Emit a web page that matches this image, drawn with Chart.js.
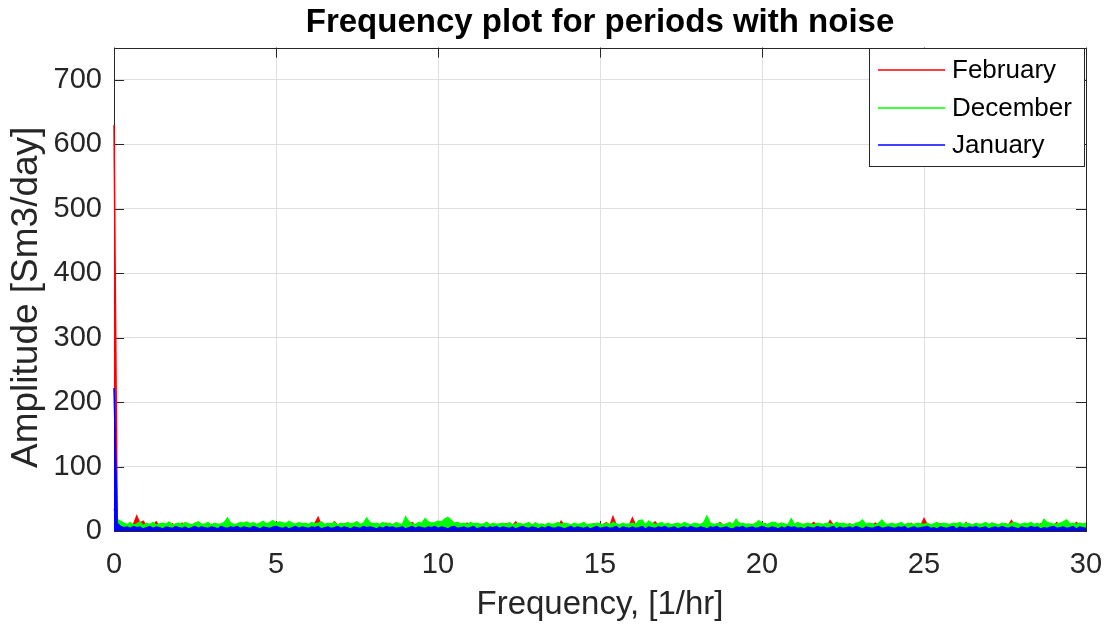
<!DOCTYPE html>
<html>
<head>
<meta charset="utf-8">
<script src="https://cdn.jsdelivr.net/npm/chart.js@4/dist/chart.umd.min.js"></script>
<style>
  html, body { margin: 0; padding: 0; background: #fff; }
  canvas { display: block; }
</style>
</head>
<body>
<canvas id="freqChart" width="1105" height="628"></canvas>
<script>
// frequency grid: 0..30 1/hr, step 0.1
const freqStep = 0.1;
const freqCount = 301;

const xTicks = [0, 5, 10, 15, 20, 25, 30];
const yTicks = [0, 100, 200, 300, 400, 500, 600, 700];

const seriesNames = ["February", "December", "January"];
const seriesColors = ["#ff0000", "#00ff00", "#0000ff"];

// amplitudes [Sm3/day]
const february = [
  630, 9, 7, 11, 6, 8, 10, 23, 12, 15, 8, 6, 9, 14, 7, 10, 5, 8, 11, 7,
  9, 12, 6, 8, 10, 7, 13, 9, 6, 11, 8, 5, 10, 7, 9, 12, 6, 8, 7, 10,
  8, 6, 11, 9, 7, 10, 5, 8, 12, 7, 9, 6, 10, 8, 11, 7, 9, 6, 8, 10,
  7, 9, 12, 21, 8, 6, 10, 7, 14, 9, 6, 11, 8, 7, 10, 13, 6, 9, 8, 7,
  10, 8, 6, 9, 12, 7, 8, 10, 6, 9, 11, 7, 13, 8, 6, 10, 9, 7, 8, 11,
  6, 9, 8, 10, 7, 11, 8, 6, 9, 12, 7, 8, 10, 6, 9, 13, 8, 7, 10, 6,
  9, 11, 7, 8, 14, 6, 9, 10, 7, 8, 12, 6, 9, 7, 11, 8, 10, 6, 15, 9,
  7, 8, 10, 6, 9, 12, 7, 8, 11, 9, 6, 10, 13, 8, 22, 9, 7, 10, 6, 8,
  20, 9, 7, 11, 8, 6, 10, 14, 8, 7, 9, 11, 6, 8, 10, 7, 12, 9, 6, 8,
  10, 7, 9, 6, 11, 8, 7, 13, 9, 6, 8, 10, 7, 12, 9, 8, 6, 10, 7, 9,
  8, 11, 6, 9, 7, 10, 12, 8, 6, 9, 7, 11, 8, 10, 6, 9, 13, 7, 8, 10,
  6, 16, 9, 7, 10, 8, 6, 11, 9, 7, 13, 8, 10, 6, 9, 12, 7, 8, 10, 6,
  9, 7, 11, 8, 6, 10, 12, 7, 9, 8, 19, 10, 7, 9, 6, 11, 8, 10, 7, 9,
  6, 10, 8, 13, 7, 9, 11, 6, 8, 10, 7, 12, 9, 8, 6, 11, 9, 16, 8, 7,
  10, 6, 9, 12, 8, 7, 11, 9, 6, 10, 8, 13, 7, 9, 11, 8, 6, 13, 9, 7,
  8
];

const december = [
  35, 18, 15, 12, 10, 13, 9, 11, 14, 8, 12, 10, 13, 9, 11, 12, 10, 14, 9, 11,
  12, 10, 13, 11, 9, 12, 14, 10, 11, 13, 9, 12, 10, 11, 13, 20, 12, 10, 11, 13,
  12, 14, 11, 13, 10, 12, 15, 11, 13, 16, 12, 14, 13, 11, 15, 12, 10, 13, 11, 12,
  10, 13, 11, 12, 14, 10, 12, 11, 13, 9, 12, 10, 13, 11, 12, 14, 10, 12, 20, 13,
  11, 12, 10, 13, 11, 12, 9, 13, 11, 10, 22, 14, 11, 10, 13, 12, 19, 14, 12, 13,
  15, 14, 18, 21, 17, 12, 13, 11, 12, 10, 13, 11, 12, 10, 11, 13, 9, 12, 10, 11,
  12, 10, 13, 9, 11, 12, 10, 11, 13, 9, 12, 10, 11, 9, 12, 10, 11, 13, 10, 12,
  11, 9, 12, 10, 11, 13, 9, 11, 10, 12, 11, 9, 12, 10, 13, 11, 9, 12, 10, 11,
  12, 10, 16, 17, 9, 15, 12, 10, 11, 13, 10, 12, 9, 11, 12, 10, 13, 11, 9, 12,
  11, 10, 13, 23, 12, 10, 11, 12, 9, 11, 13, 10, 18, 11, 12, 10, 11, 9, 12, 16,
  12, 10, 11, 13, 13, 10, 12, 11, 9, 19, 10, 13, 11, 10, 12, 11, 9, 12, 11, 10,
  12, 11, 10, 13, 11, 12, 10, 11, 9, 12, 13, 17, 10, 12, 11, 9, 12, 17, 11, 10,
  12, 10, 11, 13, 9, 12, 11, 10, 12, 11, 10, 12, 9, 11, 13, 10, 12, 11, 10, 12,
  11, 13, 10, 12, 11, 9, 12, 10, 11, 13, 10, 12, 11, 9, 12, 11, 10, 12, 13, 11,
  10, 12, 11, 13, 10, 12, 9, 18, 13, 12, 10, 11, 12, 14, 17, 11, 12, 10, 12, 11,
  12
];

const january = [
  222, 12, 7, 5, 6, 4, 7, 5, 6, 3, 5, 7, 4, 6, 5, 3, 6, 5, 4, 7,
  5, 4, 6, 3, 5, 7, 4, 6, 5, 4, 6, 5, 3, 7, 5, 4, 6, 5, 7, 4,
  6, 5, 4, 7, 5, 3, 6, 5, 4, 6, 7, 5, 4, 6, 3, 5, 7, 4, 6, 5,
  4, 6, 5, 7, 3, 5, 6, 4, 5, 7, 4, 6, 5, 3, 6, 5, 4, 7, 5, 6,
  5, 3, 6, 4, 7, 5, 6, 4, 5, 6, 3, 5, 7, 4, 6, 5, 4, 6, 5, 7,
  4, 6, 5, 3, 6, 7, 4, 5, 6, 4, 5, 7, 3, 5, 6, 4, 6, 5, 7, 4,
  6, 5, 4, 6, 3, 5, 7, 5, 4, 6, 5, 3, 6, 4, 7, 5, 4, 6, 5, 3,
  5, 7, 4, 6, 5, 4, 6, 3, 5, 7, 4, 5, 6, 4, 5, 7, 3, 6, 5, 4,
  6, 4, 5, 7, 3, 6, 5, 4, 6, 5, 7, 4, 5, 6, 3, 5, 6, 4, 7, 5,
  4, 6, 5, 3, 6, 5, 7, 4, 5, 6, 4, 3, 6, 5, 7, 4, 5, 6, 4, 5,
  7, 5, 4, 6, 5, 3, 6, 4, 7, 5, 6, 4, 5, 3, 6, 5, 4, 7, 5, 6,
  4, 5, 7, 3, 6, 4, 5, 6, 4, 7, 5, 3, 6, 5, 4, 6, 7, 4, 5, 6,
  5, 4, 6, 5, 7, 3, 5, 6, 4, 5, 6, 7, 4, 5, 3, 6, 5, 4, 6, 7,
  3, 6, 5, 4, 6, 5, 7, 4, 5, 6, 3, 5, 6, 4, 7, 5, 4, 6, 5, 3,
  6, 5, 4, 7, 5, 6, 3, 5, 4, 6, 7, 4, 5, 6, 4, 5, 7, 3, 6, 5,
  4
];

const seriesValues = [february, december, january];

const yTitle = "Amplitude [Sm3/day]";

const FONT = "'Liberation Sans', Arial, Helvetica, sans-serif";
const AXIS_COLOR = "#262626";

function toPoints(vals) {
  return vals.slice(0, freqCount).map((v, i) => ({ x: +(i * freqStep).toFixed(2), y: v }));
}

// MATLAB style box with inward tick marks, y label, then legend on top
const boxPlugin = {
  id: "matlabBox",
  afterLayout(chart) {
    // centre the title over the axes, not the whole canvas
    if (chart.titleBlock) {
      chart.titleBlock.left = chart.chartArea.left;
      chart.titleBlock.right = chart.chartArea.right;
    }
  },
  beforeDatasetsDraw(chart) {
    const { ctx, chartArea: a, scales } = chart;
    const len = 10;
    ctx.save();
    ctx.strokeStyle = AXIS_COLOR;
    ctx.lineWidth = 1;
    ctx.beginPath();
    xTicks.forEach(v => {
      const px = Math.round(scales.x.getPixelForValue(v)) + 0.5;
      ctx.moveTo(px, a.bottom); ctx.lineTo(px, a.bottom - len);
      ctx.moveTo(px, a.top); ctx.lineTo(px, a.top + len);
    });
    yTicks.forEach(v => {
      const py = Math.round(scales.y.getPixelForValue(v)) + 0.5;
      ctx.moveTo(a.left, py); ctx.lineTo(a.left + len, py);
      ctx.moveTo(a.right, py); ctx.lineTo(a.right - len, py);
    });
    ctx.stroke();
    ctx.strokeRect(Math.round(a.left) + 0.5, Math.round(a.top) + 0.5,
      Math.round(a.right - a.left), Math.round(a.bottom - a.top));
    ctx.restore();
  },
  afterDraw(chart) {
    const { ctx, chartArea: a } = chart;
    ctx.save();
    // y axis label, sits a little below the axes centre in the original
    ctx.translate(27, (a.top + a.bottom) / 2 + 8);
    ctx.rotate(-Math.PI / 2);
    ctx.font = "37px " + FONT;
    ctx.fillStyle = AXIS_COLOR;
    ctx.textAlign = "center";
    ctx.textBaseline = "middle";
    ctx.fillText(yTitle, 0, 0);
    ctx.restore();

    const bx = 869, by = Math.round(a.top), bw = Math.round(a.right) - 2 - bx, bh = 118;
    ctx.save();
    ctx.fillStyle = "#fff";
    ctx.fillRect(bx, by, bw, bh);
    ctx.strokeStyle = AXIS_COLOR;
    ctx.lineWidth = 1;
    ctx.strokeRect(bx + 0.5, by + 0.5, bw, bh);
    ctx.font = "26px " + FONT;
    ctx.textBaseline = "middle";
    ctx.textAlign = "left";
    seriesNames.forEach((name, i) => {
      const y = by + 22 + i * 37.5;
      ctx.strokeStyle = seriesColors[i];
      ctx.lineWidth = 1.6;
      ctx.beginPath();
      ctx.moveTo(878, Math.round(y));
      ctx.lineTo(945, Math.round(y));
      ctx.stroke();
      ctx.fillStyle = "#000";
      ctx.fillText(name, 952, y + 1);
    });
    ctx.restore();
  }
};

new Chart(document.getElementById("freqChart"), {
  type: "line",
  data: {
    datasets: seriesNames.map((name, i) => ({
      label: name,
      data: toPoints(seriesValues[i]),
      borderColor: seriesColors[i],
      backgroundColor: seriesColors[i],
      borderWidth: 1.5,
      pointRadius: 0,
      tension: 0,
      fill: "origin",
      clip: 2,
      order: 3 - i
    }))
  },
  options: {
    responsive: false,
    animation: false,
    layout: { padding: { left: 0, right: 19, top: 0, bottom: 0 } },
    plugins: {
      legend: { display: false },
      tooltip: { enabled: false },
      title: {
        display: true,
        text: "Frequency plot for periods with noise",
        color: "#000",
        font: { family: FONT, size: 33, weight: "bold", lineHeight: 1.2 },
        padding: { top: 3, bottom: 5 }
      }
    },
    scales: {
      x: {
        type: "linear",
        min: 0,
        max: 30,
        afterBuildTicks: s => { s.ticks = xTicks.map(v => ({ value: v })); },
        afterFit: s => { s.height = 97; s.paddingLeft = 0; s.paddingRight = 0; },
        ticks: {
          color: AXIS_COLOR,
          font: { family: FONT, size: 29 },
          padding: 17,
          maxRotation: 0
        },
        grid: { color: "#dfdfdf", lineWidth: 1, drawTicks: false },
        border: { display: false },
        title: {
          display: true,
          text: "Frequency, [1/hr]",
          color: AXIS_COLOR,
          font: { family: FONT, size: 33, lineHeight: 1.2 },
          padding: { top: 0, bottom: 3 }
        }
      },
      y: {
        type: "linear",
        min: 0,
        max: 750,
        afterBuildTicks: s => { s.ticks = yTicks.map(v => ({ value: v })); },
        afterFit: s => { s.width = 114; s.paddingTop = 0; s.paddingBottom = 0; },
        ticks: {
          color: AXIS_COLOR,
          font: { family: FONT, size: 29 },
          padding: 12
        },
        grid: { color: "#dfdfdf", lineWidth: 1, drawTicks: false },
        border: { display: false },
        title: { display: false }
      }
    }
  },
  plugins: [boxPlugin]
});
</script>
</body>
</html>
